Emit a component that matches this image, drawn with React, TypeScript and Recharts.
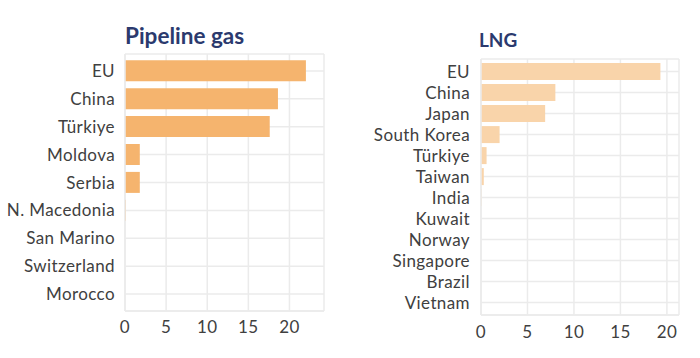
import React from "react";
import { BarChart, Bar, XAxis, YAxis, CartesianGrid } from "recharts";

const pipelineCountries = ["EU", "China", "Türkiye", "Moldova", "Serbia", "N. Macedonia", "San Marino", "Switzerland", "Morocco"];
const pipelineValues = [22.0, 18.6, 17.6, 1.8, 1.8, 0.1, 0, 0, 0];

const lngCountries = ["EU", "China", "Japan", "South Korea", "Türkiye", "Taiwan", "India", "Kuwait", "Norway", "Singapore", "Brazil", "Vietnam"];
const lngValues = [19.3, 8.0, 6.9, 2.0, 0.6, 0.3, 0.05, 0, 0, 0, 0, 0];

const xTicks = [0, 5, 10, 15, 20];

const pipelineData = pipelineCountries.map((c, i) => ({ country: c, value: pipelineValues[i] }));
const lngData = lngCountries.map((c, i) => ({ country: c, value: lngValues[i] }));

const FONT = "Lato, 'Open Sans', sans-serif";
const GRID = "#EBEBEB";
const TEXT = "#404040";
const TITLE = "#2B3A6E";

const tickStyle = { fill: TEXT, fontSize: 17, fontFamily: FONT, letterSpacing: 0.4 };

export default function App() {
  return (
    <div style={{ position: "absolute", left: 0, top: 0, width: 700, height: 358, background: "#fff", overflow: "hidden" }}>
      <div style={{ position: "absolute", left: 125, top: 21, fontFamily: FONT, fontWeight: 700, fontSize: 22.5, lineHeight: "30px", color: TITLE }}>
        Pipeline gas
      </div>
      <div style={{ position: "absolute", left: 479, top: 27, fontFamily: FONT, fontWeight: 700, fontSize: 19, lineHeight: "26px", color: TITLE }}>
        LNG
      </div>
      <div style={{ position: "absolute", left: 0, top: 0 }}>
        <BarChart width={340} height={358} data={pipelineData} layout="vertical" margin={{ top: 54, right: 16, bottom: 17, left: 0 }} barCategoryGap="12%">
          <CartesianGrid stroke={GRID} strokeWidth={1.5} />
          <XAxis type="number" dataKey="value" domain={[0, 24.2]} ticks={xTicks} allowDataOverflow height={30} tickLine={false} axisLine={{ stroke: GRID, strokeWidth: 1.5 }} tick={tickStyle} tickMargin={4} />
          <XAxis xAxisId="top" type="number" orientation="top" domain={[0, 24.2]} ticks={xTicks} height={0} tick={false} tickLine={false} axisLine={{ stroke: GRID, strokeWidth: 1.5 }} />
          <YAxis type="category" dataKey="country" width={125} tickLine={false} axisLine={{ stroke: GRID, strokeWidth: 1.5 }} tick={tickStyle} tickMargin={4} padding={{ top: 3, bottom: 3 }} interval={0} />
          <YAxis yAxisId="right" type="category" dataKey="country" orientation="right" width={0} tick={false} tickLine={false} axisLine={{ stroke: GRID, strokeWidth: 1.5 }} padding={{ top: 3, bottom: 3 }} />
          <Bar dataKey="value" fill="#F5B46E" isAnimationActive={false} />
        </BarChart>
      </div>
      <div style={{ position: "absolute", left: 360, top: 0 }}>
        <BarChart width={340} height={358} data={lngData} layout="vertical" margin={{ top: 59, right: 21, bottom: 13, left: 0 }} barCategoryGap="10%">
          <CartesianGrid stroke={GRID} strokeWidth={1.5} />
          <XAxis type="number" dataKey="value" domain={[0, 21.3]} ticks={xTicks} allowDataOverflow height={30} tickLine={false} axisLine={{ stroke: GRID, strokeWidth: 1.5 }} tick={tickStyle} tickMargin={5} />
          <XAxis xAxisId="top" type="number" orientation="top" domain={[0, 21.3]} ticks={xTicks} height={0} tick={false} tickLine={false} axisLine={{ stroke: GRID, strokeWidth: 1.5 }} />
          <YAxis type="category" dataKey="country" width={121} tickLine={false} axisLine={{ stroke: GRID, strokeWidth: 1.5 }} tick={tickStyle} tickMargin={5} padding={{ top: 2, bottom: 2 }} interval={0} />
          <YAxis yAxisId="right" type="category" dataKey="country" orientation="right" width={0} tick={false} tickLine={false} axisLine={{ stroke: GRID, strokeWidth: 1.5 }} padding={{ top: 2, bottom: 2 }} />
          <Bar dataKey="value" fill="#F9D4AA" isAnimationActive={false} />
        </BarChart>
      </div>
    </div>
  );
}
